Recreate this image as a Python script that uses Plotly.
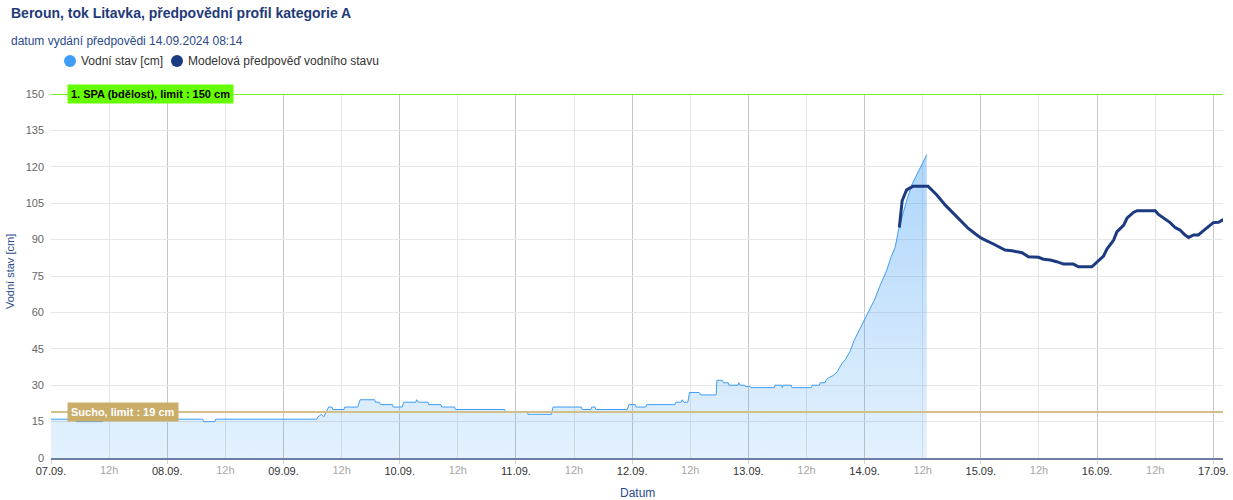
import plotly.graph_objects as go

# ---------------- data ----------------
obs_time = [
    "2024-09-07 00:00", "2024-09-07 05:00", "2024-09-07 05:10", "2024-09-07 10:40", "2024-09-07 10:50",
    "2024-09-07 14:30", "2024-09-07 14:40", "2024-09-07 20:50", "2024-09-07 21:00",
    "2024-09-08 07:20", "2024-09-08 07:30", "2024-09-08 09:50", "2024-09-08 10:00",
    "2024-09-09 06:50", "2024-09-09 07:10", "2024-09-09 07:50", "2024-09-09 08:20", "2024-09-09 08:50",
    "2024-09-09 09:20", "2024-09-09 10:00", "2024-09-09 10:10", "2024-09-09 12:30", "2024-09-09 12:40",
    "2024-09-09 15:20", "2024-09-09 15:50", "2024-09-09 18:50", "2024-09-09 19:00", "2024-09-09 19:50",
    "2024-09-09 20:00", "2024-09-09 22:30", "2024-09-09 22:40",
    "2024-09-10 00:30", "2024-09-10 00:50", "2024-09-10 03:20", "2024-09-10 03:30", "2024-09-10 03:50",
    "2024-09-10 05:50", "2024-09-10 06:00", "2024-09-10 08:30", "2024-09-10 08:40", "2024-09-10 11:20",
    "2024-09-10 11:30", "2024-09-10 21:40", "2024-09-10 21:50",
    "2024-09-11 02:20", "2024-09-11 02:30", "2024-09-11 07:20", "2024-09-11 07:40", "2024-09-11 13:30",
    "2024-09-11 13:40", "2024-09-11 15:30", "2024-09-11 15:40", "2024-09-11 16:20", "2024-09-11 16:30",
    "2024-09-11 23:00", "2024-09-11 23:20",
    "2024-09-12 00:40", "2024-09-12 00:50", "2024-09-12 02:50", "2024-09-12 03:00", "2024-09-12 08:50",
    "2024-09-12 09:00", "2024-09-12 10:10", "2024-09-12 10:20", "2024-09-12 10:40", "2024-09-12 11:30",
    "2024-09-12 11:50", "2024-09-12 13:50", "2024-09-12 14:10", "2024-09-12 17:20", "2024-09-12 17:30",
    "2024-09-12 18:40", "2024-09-12 18:50", "2024-09-12 19:50", "2024-09-12 20:00", "2024-09-12 21:50",
    "2024-09-12 22:00", "2024-09-12 22:20", "2024-09-12 23:10", "2024-09-12 23:20",
    "2024-09-13 00:20", "2024-09-13 00:30", "2024-09-13 05:20", "2024-09-13 05:30", "2024-09-13 06:50",
    "2024-09-13 07:00", "2024-09-13 07:10", "2024-09-13 08:50", "2024-09-13 09:00", "2024-09-13 13:00",
    "2024-09-13 13:10", "2024-09-13 14:40", "2024-09-13 14:50", "2024-09-13 15:50", "2024-09-13 16:00",
    "2024-09-13 16:30", "2024-09-13 17:30", "2024-09-13 18:20", "2024-09-13 19:20", "2024-09-13 20:00",
    "2024-09-13 21:00", "2024-09-13 21:50", "2024-09-13 23:00",
    "2024-09-14 00:00", "2024-09-14 01:00", "2024-09-14 02:00", "2024-09-14 03:10", "2024-09-14 04:30",
    "2024-09-14 05:30", "2024-09-14 06:20", "2024-09-14 07:00", "2024-09-14 07:40", "2024-09-14 08:40",
    "2024-09-14 09:50", "2024-09-14 10:50", "2024-09-14 11:50", "2024-09-14 12:50",
]
obs_level = [
    16, 16, 15, 15, 16,
    16, 17, 17, 16,
    16, 15, 15, 16,
    16, 17, 18, 17, 19,
    21, 21, 20, 20, 21,
    21, 24, 24, 23, 23,
    22, 22, 21,
    21, 23, 23, 24, 23,
    23, 22, 22, 21, 21,
    20, 20, 19,
    19, 18, 18, 21, 21,
    20, 20, 21, 21, 20,
    20, 22,
    22, 21, 21, 22, 22,
    23, 23, 24, 23, 23,
    27, 27, 26, 26, 32,
    32, 31, 31, 30, 30,
    31, 30, 30, 29.5,
    29.5, 29, 29, 30, 30,
    29, 30, 30, 29, 29,
    30, 30, 31, 31, 32,
    33, 34, 35.5, 39, 40.5,
    44, 48.5, 53,
    57, 61, 65, 71, 77,
    83, 87, 94, 99, 106,
    113, 117, 121, 125,
]

fc_time = [
    "2024-09-14 07:10", "2024-09-14 07:45", "2024-09-14 08:40", "2024-09-14 10:00", "2024-09-14 13:05",
    "2024-09-14 14:55", "2024-09-14 16:40", "2024-09-14 17:40", "2024-09-14 20:25", "2024-09-14 21:25",
    "2024-09-14 23:10", "2024-09-15 00:10", "2024-09-15 02:35", "2024-09-15 05:00", "2024-09-15 06:25",
    "2024-09-15 08:30", "2024-09-15 09:50", "2024-09-15 11:55", "2024-09-15 12:55", "2024-09-15 14:20",
    "2024-09-15 15:40", "2024-09-15 17:05", "2024-09-15 19:05", "2024-09-15 20:10", "2024-09-15 22:55",
    "2024-09-16 00:00", "2024-09-16 01:20", "2024-09-16 02:00", "2024-09-16 03:25", "2024-09-16 04:05",
    "2024-09-16 05:30", "2024-09-16 06:10", "2024-09-16 07:30", "2024-09-16 08:15", "2024-09-16 12:00",
    "2024-09-16 12:40", "2024-09-16 13:45", "2024-09-16 15:05", "2024-09-16 16:10", "2024-09-16 17:10",
    "2024-09-16 18:10", "2024-09-16 18:55", "2024-09-16 19:55", "2024-09-16 20:55", "2024-09-16 21:40",
    "2024-09-16 23:00", "2024-09-17 00:00", "2024-09-17 01:05", "2024-09-17 02:05",
]
fc_level = [
    95, 106, 110.5, 112, 112,
    108.4, 104.2, 102.2, 96.7, 94.6,
    91.9, 90.5, 88.2, 85.7, 85.4,
    84.6, 82.9, 82.7, 81.9, 81.6,
    80.9, 79.9, 79.9, 78.8, 78.8,
    80.9, 83.2, 86, 89.8, 93.2,
    96, 98.8, 101.2, 101.9, 101.9,
    100.4, 99, 97, 94.9, 93.9,
    91.9, 90.9, 91.9, 91.9, 93.2,
    95.6, 97, 97.1, 98.3,
]

day_ticks = ["2024-09-%02d" % d for d in range(7, 18)]
day_labels = ["%02d.09." % d for d in range(7, 18)]
half_ticks = ["2024-09-%02d 12:00" % d for d in range(7, 17)]
half_labels = ["12h"] * len(half_ticks)
y_ticks = list(range(0, 151, 15))

spa_limit = 150
spa_label = "1. SPA (bdělost), limit : 150 cm"
sucho_limit = 19
sucho_label = "Sucho, limit : 19 cm"

title_text = "Beroun, tok Litavka, předpovědní profil kategorie A"
subtitle_text = "datum vydání předpovědi 14.09.2024 08:14"
obs_name = "Vodní stav [cm]"
fc_name = "Modelová předpověď vodního stavu"

# ---------------- styling ----------------
FONT = "Liberation Sans, Arial, sans-serif"
NAVY = "#2b4a8c"
OBS_COLOR = "#3f9df5"
FC_COLOR = "#1b3a80"
X_RANGE = ["2024-09-07 00:00", "2024-09-17 02:00"]

L, R, T, B = 51, 10, 94, 42
PW = 1233.0 - L - R
PH = 500.0 - T - B


def px_x(px):
    return (px - L) / PW


def px_y(py):
    return (500 - B - py) / PH


fig = go.Figure()

fig.add_trace(go.Scatter(
    x=obs_time, y=obs_level, mode="lines", name=obs_name, showlegend=False,
    line=dict(color=OBS_COLOR, width=1),
    fill="tozeroy",
    fillgradient=dict(type="vertical", start=0, stop=125,
                      colorscale=[[0, "rgba(63,157,245,0.14)"], [1, "rgba(63,157,245,0.42)"]]),
    hoverinfo="skip",
))
fig.add_trace(go.Scatter(
    x=fc_time, y=fc_level, mode="lines", name=fc_name, showlegend=False,
    line=dict(color=FC_COLOR, width=3), hoverinfo="skip",
))
# 12h labels axis
fig.add_trace(go.Scatter(x=[X_RANGE[0]], y=[None], xaxis="x2", showlegend=False, hoverinfo="skip"))

# limit lines
fig.add_shape(type="line", xref="paper", x0=0, x1=1, yref="y", y0=spa_limit, y1=spa_limit,
              line=dict(color="#77ee22", width=2), layer="above")
fig.add_shape(type="line", xref="paper", x0=0, x1=1, yref="y", y0=sucho_limit, y1=sucho_limit,
              line=dict(color="#d2bf8c", width=2), layer="above")

fig.add_annotation(x=px_x(67), xref="paper", xanchor="left", y=spa_limit, yref="y", yanchor="middle",
                   text="<b>" + spa_label + "</b>", showarrow=False,
                   font=dict(family=FONT, size=11, color="#000000"),
                   bgcolor="#66ff00", borderpad=3)
fig.add_annotation(x=px_x(67), xref="paper", xanchor="left", y=sucho_limit, yref="y", yanchor="middle",
                   text="<b>" + sucho_label + "</b>", showarrow=False,
                   font=dict(family=FONT, size=11, color="#ffffff"),
                   bgcolor="#c9ad69", borderpad=3)

# title and subtitle
fig.add_annotation(x=px_x(9), xref="paper", xanchor="left", y=px_y(13), yref="paper",
                   yanchor="middle", text="<b>" + title_text + "</b>", showarrow=False,
                   font=dict(family=FONT, size=14, color="#1f3a7a"))
fig.add_annotation(x=px_x(9), xref="paper", xanchor="left", y=px_y(41), yref="paper",
                   yanchor="middle", text=subtitle_text, showarrow=False,
                   font=dict(family=FONT, size=12, color=NAVY))

# legend (circle + text)
legend_items = [(obs_name, OBS_COLOR, 70), (fc_name, FC_COLOR, 177)]
for name, col, cx in legend_items:
    fig.add_shape(type="circle", xref="paper", yref="paper", xsizemode="pixel", ysizemode="pixel",
                  xanchor=px_x(cx), yanchor=px_y(61), x0=-6, x1=6, y0=-6, y1=6,
                  fillcolor=col, line=dict(width=0), layer="above")
    fig.add_annotation(x=px_x(cx + 9), xref="paper", xanchor="left", y=px_y(61), yref="paper",
                       yanchor="middle", text=name, showarrow=False,
                       font=dict(family=FONT, size=12, color="#333333"))

# axis titles
fig.add_annotation(x=px_x(10), xref="paper", xanchor="center", y=px_y(272), yref="paper",
                   yanchor="middle", text=obs_name, textangle=-90, showarrow=False,
                   font=dict(family=FONT, size=11, color=NAVY))
fig.add_annotation(x=0.5, xref="paper", xanchor="center", y=px_y(493), yref="paper",
                   yanchor="middle", text="Datum", showarrow=False,
                   font=dict(family=FONT, size=12, color=NAVY))

fig.update_layout(
    width=1233, height=500,
    margin=dict(l=L, r=R, t=T, b=B, autoexpand=False),
    paper_bgcolor="white", plot_bgcolor="white",
    font=dict(family=FONT, size=11, color="#333333"),
    showlegend=False,
    xaxis=dict(
        type="date", range=X_RANGE,
        tickmode="array", tickvals=day_ticks, ticktext=day_labels,
        tickfont=dict(family=FONT, size=11, color="#333333"),
        showgrid=True, gridcolor="#c6c6c6", gridwidth=1,
        minor=dict(tickmode="array", tickvals=half_ticks, showgrid=True, gridcolor="#e6e6e6",
                   gridwidth=1, ticks=""),
        ticks="outside", ticklen=4, tickcolor="#ccd6eb", ticklabelstandoff=-2,
        showline=True, linecolor="#6f7fa3", linewidth=2,
        zeroline=False, fixedrange=True,
    ),
    xaxis2=dict(
        type="date", range=X_RANGE, overlaying="x", anchor="y", side="bottom",
        tickmode="array", tickvals=half_ticks, ticktext=half_labels,
        tickfont=dict(family=FONT, size=11, color="#a6a6a6"),
        showgrid=False, showline=False, ticks="outside", ticklen=4, tickcolor="rgba(0,0,0,0)",
        ticklabelstandoff=-2, zeroline=False,
    ),
    yaxis=dict(
        range=[0, 150], tickmode="array", tickvals=y_ticks,
        tickfont=dict(family=FONT, size=11, color="#666666"),
        showgrid=True, gridcolor="#e6e6e6", gridwidth=1,
        zeroline=False, showline=False, ticks="", ticklabelstandoff=6,
    ),
)

fig.write_html("out.html", config={"displayModeBar": False},
               post_script="document.body.style.margin='0';document.body.style.overflow='hidden';")
